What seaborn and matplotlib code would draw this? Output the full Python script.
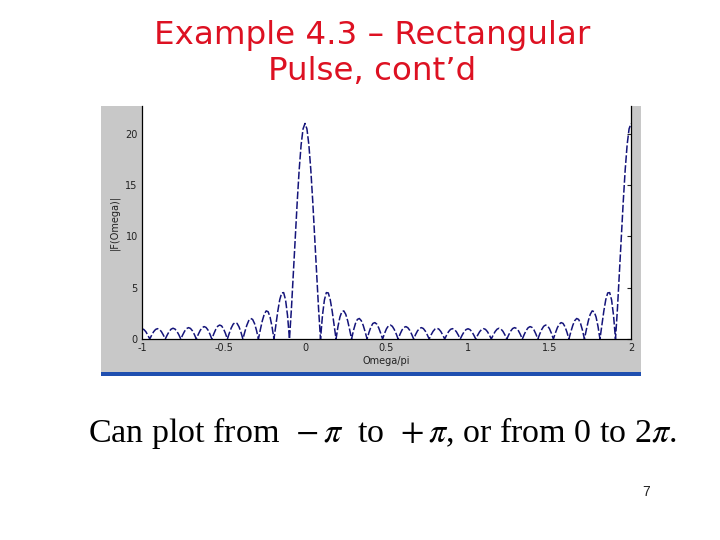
import numpy as np
import matplotlib
matplotlib.use("Agg")
import matplotlib.pyplot as plt
import seaborn as sns
from matplotlib.patches import Rectangle

# |F(Omega)| samples, Omega/pi from -1 to 2 (uniform steps)
mag = [
    1.00,
    0.92, 0.71, 0.38, 0.00, 0.38, 0.71, 0.93, 1.01,
    0.94, 0.72, 0.39, 0.00, 0.39, 0.73, 0.96, 1.05,
    0.97, 0.75, 0.41, 0.00, 0.41, 0.77, 1.02, 1.11,
    1.03, 0.80, 0.44, 0.00, 0.45, 0.84, 1.10, 1.21,
    1.13, 0.88, 0.48, 0.00, 0.50, 0.93, 1.24, 1.36,
    1.28, 1.00, 0.55, 0.00, 0.57, 1.08, 1.45, 1.60,
    1.52, 1.19, 0.66, 0.00, 0.70, 1.33, 1.79, 2.00,
    1.91, 1.51, 0.85, 0.00, 0.92, 1.77, 2.41, 2.74,
    2.66, 2.14, 1.22, 0.00, 1.38, 2.73, 3.84, 4.49,
    4.52, 3.80, 2.29, 0.00, 2.93, 6.32, 9.90, 13.38,
    16.48, 18.91, 20.47, 21.00,
    20.47, 18.91, 16.48, 13.38, 9.90, 6.32, 2.93, 0.00,
    2.29, 3.80, 4.52, 4.49, 3.84, 2.73, 1.38, 0.00,
    1.22, 2.14, 2.66, 2.74, 2.41, 1.77, 0.92, 0.00,
    0.85, 1.51, 1.91, 2.00, 1.79, 1.33, 0.70, 0.00,
    0.66, 1.19, 1.52, 1.60, 1.45, 1.08, 0.57, 0.00,
    0.55, 1.00, 1.28, 1.36, 1.24, 0.93, 0.50, 0.00,
    0.48, 0.88, 1.13, 1.21, 1.10, 0.84, 0.45, 0.00,
    0.44, 0.80, 1.03, 1.11, 1.02, 0.77, 0.41, 0.00,
    0.41, 0.75, 0.97, 1.05, 0.96, 0.73, 0.39, 0.00,
    0.39, 0.72, 0.94, 1.01, 0.93, 0.71, 0.38, 0.00,
    0.38, 0.71, 0.92, 1.00,
    0.92, 0.71, 0.38, 0.00, 0.38, 0.71, 0.93, 1.01,
    0.94, 0.72, 0.39, 0.00, 0.39, 0.73, 0.96, 1.05,
    0.97, 0.75, 0.41, 0.00, 0.41, 0.77, 1.02, 1.11,
    1.03, 0.80, 0.44, 0.00, 0.45, 0.84, 1.10, 1.21,
    1.13, 0.88, 0.48, 0.00, 0.50, 0.93, 1.24, 1.36,
    1.28, 1.00, 0.55, 0.00, 0.57, 1.08, 1.45, 1.60,
    1.52, 1.19, 0.66, 0.00, 0.70, 1.33, 1.79, 2.00,
    1.91, 1.51, 0.85, 0.00, 0.92, 1.77, 2.41, 2.74,
    2.66, 2.14, 1.22, 0.00, 1.38, 2.73, 3.84, 4.49,
    4.52, 3.80, 2.29, 0.00, 2.93, 6.32, 9.90, 13.38,
    16.48, 18.91, 20.47, 21.00,
]
omega = np.linspace(-1, 2, len(mag))

x_ticks = [-1, -0.5, 0, 0.5, 1, 1.5, 2]
x_labels = ["-1", "-0.5", "0", "0.5", "1", "1.5", "2"]
y_ticks = [0, 5, 10, 15, 20]

sns.set_style("white")
plt.rcParams["font.family"] = ["DejaVu Sans"]
plt.rcParams["mathtext.fontset"] = "stix"

fig = plt.figure(figsize=(7.2, 5.4), dpi=100)
fig.patch.set_facecolor("white")

# grey matlab figure panel + blue rule underneath
fig.patches.append(Rectangle((0.1403, 0.3111), 0.75, 0.4926, transform=fig.transFigure,
                             facecolor="#c8c8c8", edgecolor="none", zorder=-10))
fig.patches.append(Rectangle((0.1403, 0.3037), 0.75, 0.0074, transform=fig.transFigure,
                             facecolor="#1f4fb0", edgecolor="none", zorder=-10))

ax = fig.add_axes([0.1972, 0.3722, 0.6792, 0.4315])
ax.set_zorder(5)
ax.set_facecolor("white")
sns.lineplot(x=omega, y=mag, ax=ax, color="#14147a", linewidth=1.1, sort=False)
ax.lines[0].set_dashes((5, 1.5))

ax.set_xlim(-1, 2)
ax.set_ylim(0, 22.7)
ax.set_xticks(x_ticks)
ax.set_xticklabels(x_labels)
ax.set_yticks(y_ticks)
ax.tick_params(direction="in", length=3, width=0.8, right=True, labelsize=7,
               colors="#222222")
ax.tick_params(axis="x", pad=3)
ax.tick_params(axis="y", pad=3)
for s in ["left", "bottom", "right"]:
    ax.spines[s].set_color("black")
    ax.spines[s].set_linewidth(0.9)
ax.spines["top"].set_visible(False)
ax.set_xlabel("Omega/pi", fontsize=7, labelpad=2, color="#222222")
ax.set_ylabel("|F(Omega)|", fontsize=7, labelpad=4, color="#222222")

fig.text(0.517, 0.935, "Example 4.3 \u2013 Rectangular", ha="center", va="center",
         fontsize=23.4, color="#dd1122")
fig.text(0.517, 0.867, "Pulse, cont\u2019d", ha="center", va="center",
         fontsize=23.4, color="#dd1122")

fig.text(0.122, 0.198, r"Can plot from  $-\,\pi$  to  $+\,\pi$, or from 0 to 2$\pi$.",
         ha="left", va="center", fontsize=24.5, family="Liberation Serif", color="black")
fig.text(0.897, 0.089, "7", ha="center", va="center", fontsize=10,
         family="Liberation Sans", color="#222222")

fig.savefig("out.png", dpi=100, facecolor="white")
